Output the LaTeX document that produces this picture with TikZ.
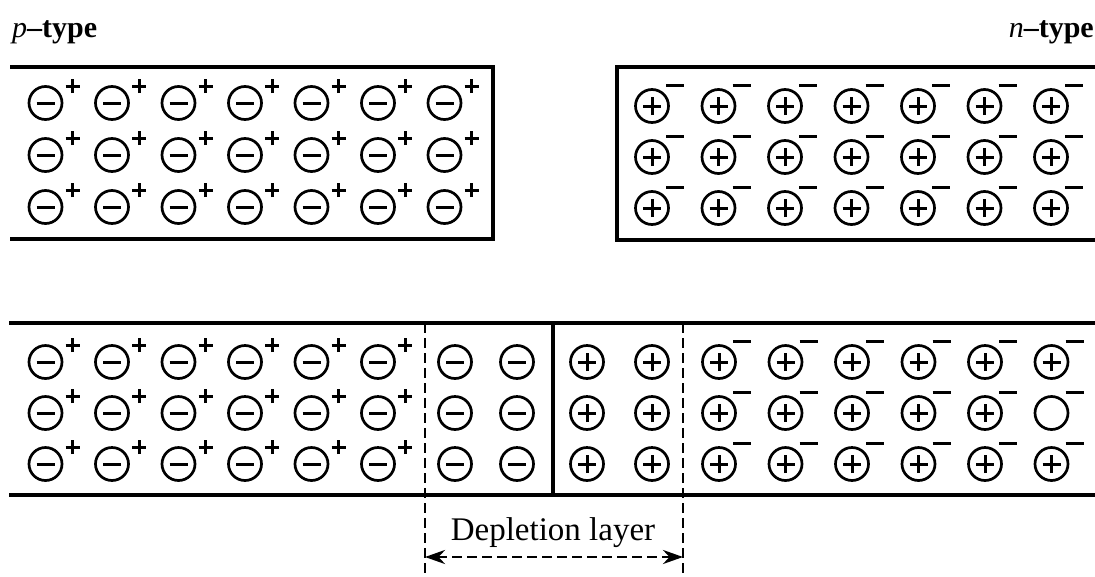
\documentclass[tikz,border=0pt]{standalone}
\usepackage{fontspec}
\setmainfont{Liberation Serif}
\usetikzlibrary{arrows.meta}
\begin{document}
\begin{tikzpicture}[x=1pt,y=-1pt,
  ion/.style={circle, draw, line width=2.7pt, minimum size=33pt, inner sep=0pt},
  acceptor/.style={ion, path picture={
      \draw[line width=3pt]
        ([xshift=-9pt]path picture bounding box.center) --
        ([xshift=9pt]path picture bounding box.center);}},
  donor/.style={ion, path picture={
      \draw[line width=3pt]
        ([xshift=-9pt]path picture bounding box.center) --
        ([xshift=9pt]path picture bounding box.center)
        ([yshift=-9pt]path picture bounding box.center) --
        ([yshift=9pt]path picture bounding box.center);}},
  carrier/.style={line width=3pt},
  pics/hole/.style={code={\draw[carrier] (20,-17) -- (34,-17) (27,-10) -- (27,-24);}},
  pics/electron/.style={code={\draw[carrier] (14,-21) -- (32,-21);}},
  wall/.style={line width=4.8pt},
  junction/.style={line width=3.2pt},
  edge line/.style={line width=2.8pt, dash pattern=on 10pt off 5pt},
  label text/.style={font=\fontsize{30}{32}\selectfont},
]
\useasboundingbox (0,0) rectangle (1095,576);

% material labels
\node[label text, anchor=base west, inner sep=0pt] (ptype) at (12,37) {\textit{p}\textbf{--type}};
\node[label text, anchor=base east, inner sep=0pt] (ntype) at (1094,37) {\textit{n}\textbf{--type}};

% separate p-type crystal
\draw[wall] (10,67) -- (493,67) -- (493,239) -- (10,239);
\foreach \y [count=\r] in {103,155,207}
  \foreach \c in {1,...,7}{
    \node[acceptor] (pa-\r-\c) at ({45.5+66.5*(\c-1)},\y) {};
    \pic at (pa-\r-\c.center) {hole};
  }

% separate n-type crystal
\draw[wall] (1095,67) -- (617,67) -- (617,240) -- (1095,240);
\foreach \y [count=\r] in {106,157,208}
  \foreach \c in {1,...,7}{
    \node[donor] (nd-\r-\c) at ({652+66.5*(\c-1)},\y) {};
    \pic at (nd-\r-\c.center) {electron};
  }

% joined p-n junction
\draw[wall] (9,323) -- (1095,323);
\draw[wall] (9,495) -- (1095,495);
\draw[junction] (553,323) -- (553,495);

\foreach \y [count=\r] in {362,413,464}{
  % neutral p region
  \foreach \c in {1,...,6}{
    \node[acceptor] (jp-\r-\c) at ({45.5+66.5*(\c-1)},\y) {};
    \pic at (jp-\r-\c.center) {hole};
  }
  % uncovered ions in the depletion layer
  \node[acceptor] (dp-\r-1) at (455,\y) {};
  \node[acceptor] (dp-\r-2) at (517,\y) {};
  \node[donor] (dn-\r-1) at (587,\y) {};
  \node[donor] (dn-\r-2) at (652,\y) {};
  % neutral n region
  \foreach \c in {1,...,6}{
    \ifnum\r=2 \ifnum\c=6
      \node[ion] (jn-\r-\c) at ({719+66.5*(\c-1)},\y) {};
    \else
      \node[donor] (jn-\r-\c) at ({719+66.5*(\c-1)},\y) {};
    \fi\else
      \node[donor] (jn-\r-\c) at ({719+66.5*(\c-1)},\y) {};
    \fi
    \pic at (jn-\r-\c.center) {electron};
  }
}

% depletion layer edges and width
\coordinate (dlt) at (425,323);
\coordinate (drt) at (683,323);
\coordinate (dlb) at (425,576);
\coordinate (drb) at (683,576);
\coordinate (dla) at (425,557);
\coordinate (dra) at (683,557);
\draw[edge line] (dlt) -- (dlb);
\draw[edge line] (drt) -- (drb);
\draw[edge line, {Stealth[length=20pt,width=14pt]}-{Stealth[length=20pt,width=14pt]}] (dla) -- (dra);
\node[anchor=base, inner sep=0pt, font=\fontsize{33}{35}\selectfont] (dlabel) at (553,540) {Depletion layer};
\end{tikzpicture}
\end{document}
